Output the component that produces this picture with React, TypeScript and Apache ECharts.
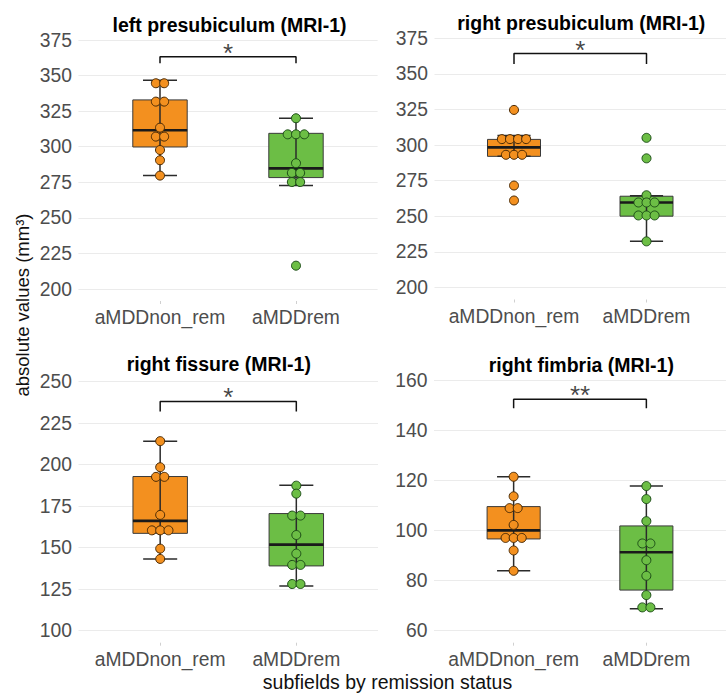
import React, { useEffect, useRef } from "react";
import * as echarts from "echarts";

// ---------- data ----------
const categories = ["aMDDnon_rem", "aMDDrem"];
const panelTitles = [
  "left presubiculum (MRI-1)",
  "right presubiculum (MRI-1)",
  "right fissure (MRI-1)",
  "right fimbria (MRI-1)",
];
const yMins = [200, 200, 100, 60];
const yMaxs = [375, 375, 250, 160];
const yIntervals = [25, 25, 25, 20];

// individual subjects (same value = same dot-plot bin)
const leftPresubNonRem = [344.6, 344.6, 331.7, 331.7, 313.4, 307.1, 307.1, 297.7, 290.5, 279.7];
const leftPresubRem = [320, 308.7, 308.7, 308.7, 288.4, 281.6, 281.6, 275.2, 275.2, 216.4];
const rightPresubNonRem = [324.7, 304.2, 304.2, 304.2, 304.2, 293.2, 293.2, 293.2, 271.6, 261.1];
const rightPresubRem = [305.1, 290.7, 264.8, 259.7, 259.7, 259.7, 250.6, 250.6, 250.6, 232.4];
const rightFissureNonRem = [214.1, 198.4, 192.6, 192.6, 169.7, 160.4, 160.4, 160.4, 149.4, 143.2];
const rightFissureRem = [187.3, 182.5, 169.3, 169.3, 157.6, 146.4, 139.6, 139.6, 128.1, 128.1];
const rightFimbriaNonRem = [121.4, 113.6, 108.9, 108.9, 102.2, 97, 97, 97, 92, 83.9];
const rightFimbriaRem = [117.7, 112.5, 103.7, 94.8, 94.8, 88.1, 81.9, 74.2, 69.3, 69.3];

// box statistics: [lower whisker, Q1, median, Q3, upper whisker]
const leftPresubBoxNonRem = [279.7, 299.8, 311.6, 332.9, 346.7];
const leftPresubBoxRem = [272.7, 278.3, 284.8, 309.4, 320];
const rightPresubBoxNonRem = [292.1, 292.1, 298.4, 304, 306.8];
const rightPresubBoxRem = [232.4, 250.1, 259.7, 264.1, 264.5];
const rightFissureBoxNonRem = [143.2, 158.6, 166.1, 192.8, 214];
const rightFissureBoxRem = [126.9, 139, 151.8, 170.5, 187.6];
const rightFimbriaBoxNonRem = [83.9, 96.6, 100, 109.5, 121.4];
const rightFimbriaBoxRem = [68.8, 76.2, 91.3, 101.8, 117.7];

const significance = ["*", "*", "*", "**"];
const bracketTops = [363.3, 364.3, 238, 152.3];
const bracketFeet = [358.7, 356.9, 232, 148.7];

const yAxisTitle = "absolute values (mm³)";
const xAxisTitle = "subfields by remission status";

// ---------- layout / style ----------
const W = 726;
const H = 694;
const FONT = "'Liberation Sans', Arial, Helvetica, sans-serif";
const ORANGE = "#F3901F";
const GREEN = "#6CBE45";
const ORANGE_EDGE = "#4a2a05";
const GREEN_EDGE = "#1c4d17";
const BOX_W = 0.4;
const CAP_W = 0.25;
const DOT_STEP = 0.061;

const grids = [
  { left: 78.4, top: 40, width: 299.2, height: 249 },
  { left: 434.5, top: 38.3, width: 300, height: 249.2 },
  { left: 78.5, top: 381.5, width: 299.5, height: 249.2 },
  { left: 434, top: 380, width: 301, height: 250.7 },
];
const titlePos = [
  [229.5, 25],
  [581.3, 23.3],
  [218.8, 364],
  [581.3, 365],
];

const panelPoints = [
  [leftPresubNonRem, leftPresubRem],
  [rightPresubNonRem, rightPresubRem],
  [rightFissureNonRem, rightFissureRem],
  [rightFimbriaNonRem, rightFimbriaRem],
];
const panelBoxes = [
  [leftPresubBoxNonRem, leftPresubBoxRem],
  [rightPresubBoxNonRem, rightPresubBoxRem],
  [rightFissureBoxNonRem, rightFissureBoxRem],
  [rightFimbriaBoxNonRem, rightFimbriaBoxRem],
];

function dotPositions(values: number[], xCenter: number) {
  const counts = new Map<number, number>();
  values.forEach((v) => counts.set(v, (counts.get(v) || 0) + 1));
  const seen = new Map<number, number>();
  return values.map((v) => {
    const k = counts.get(v) as number;
    const i = seen.get(v) || 0;
    seen.set(v, i + 1);
    return [xCenter + (i - (k - 1) / 2) * DOT_STEP, v];
  });
}

function buildOption() {
  const grid: any[] = [];
  const xAxis: any[] = [];
  const yAxis: any[] = [];
  const series: any[] = [];
  const graphic: any[] = [];

  for (let p = 0; p < 4; p++) {
    grid.push({ ...grids[p], containLabel: false });
    xAxis.push({
      type: "value",
      gridIndex: p,
      min: 0.4,
      max: 2.6,
      offset: 12,
      axisLine: { show: false },
      splitLine: { show: false },
      axisTick: {
        show: true,
        customValues: [1, 2],
        length: 3,
        lineStyle: { color: "#d0d0d0", width: 1 },
      },
      axisLabel: {
        customValues: [1, 2],
        formatter: (v: number) => categories[Math.round(v) - 1] || "",
        fontFamily: FONT,
        fontSize: 19.3,
        color: "#4D4D4D",
        margin: 7,
      },
    });
    yAxis.push({
      type: "value",
      gridIndex: p,
      min: yMins[p],
      max: yMaxs[p],
      interval: yIntervals[p],
      axisLine: { show: false },
      axisTick: { show: false },
      splitLine: { show: true, lineStyle: { color: "#EBEBEB", width: 1.1 } },
      axisLabel: {
        fontFamily: FONT,
        fontSize: 19.3,
        color: "#4D4D4D",
        margin: 6.5,
      },
    });

    const boxes = panelBoxes[p];
    series.push({
      type: "custom",
      xAxisIndex: p,
      yAxisIndex: p,
      z: 2,
      data: boxes.map((b, i) => [i + 1, ...b]),
      encode: { x: 0, y: [1, 2, 3, 4, 5] },
      renderItem: (params: any, api: any) => {
        const x = api.value(0);
        const lo = api.value(1);
        const q1 = api.value(2);
        const med = api.value(3);
        const q3 = api.value(4);
        const hi = api.value(5);
        const c = api.coord([x, med]);
        const halfBox = api.size([BOX_W / 2, 0])[0];
        const halfCap = api.size([CAP_W / 2, 0])[0];
        const yLo = api.coord([x, lo])[1];
        const yQ1 = api.coord([x, q1])[1];
        const yQ3 = api.coord([x, q3])[1];
        const yHi = api.coord([x, hi])[1];
        const fill = params.dataIndex === 0 ? ORANGE : GREEN;
        const stroke = "#2b2b2b";
        return {
          type: "group",
          children: [
            {
              type: "rect",
              shape: { x: c[0] - halfBox, y: yQ3, width: halfBox * 2, height: yQ1 - yQ3 },
              style: { fill, stroke: "#3a3a3a", lineWidth: 1 },
            },
            {
              type: "line",
              shape: { x1: c[0], y1: yLo, x2: c[0], y2: yHi },
              style: { stroke, lineWidth: 1.5 },
            },
            {
              type: "line",
              shape: { x1: c[0] - halfCap, y1: yHi, x2: c[0] + halfCap, y2: yHi },
              style: { stroke, lineWidth: 1.5 },
            },
            {
              type: "line",
              shape: { x1: c[0] - halfCap, y1: yLo, x2: c[0] + halfCap, y2: yLo },
              style: { stroke, lineWidth: 1.5 },
            },
            {
              type: "line",
              shape: { x1: c[0] - halfBox, y1: c[1], x2: c[0] + halfBox, y2: c[1] },
              style: { stroke: "#1a1a1a", lineWidth: 2.6 },
            },
          ],
        };
      },
    });

    const pts = panelPoints[p];
    series.push({
      type: "scatter",
      xAxisIndex: p,
      yAxisIndex: p,
      z: 3,
      symbol: "circle",
      symbolSize: 9,
      data: dotPositions(pts[0], 1),
      itemStyle: { color: ORANGE, borderColor: ORANGE_EDGE, borderWidth: 1, opacity: 1 },
    });
    series.push({
      type: "scatter",
      xAxisIndex: p,
      yAxisIndex: p,
      z: 3,
      symbol: "circle",
      symbolSize: 9,
      data: dotPositions(pts[1], 2),
      itemStyle: { color: GREEN, borderColor: GREEN_EDGE, borderWidth: 1, opacity: 1 },
    });

    series.push({
      type: "line",
      xAxisIndex: p,
      yAxisIndex: p,
      z: 4,
      symbol: "none",
      silent: true,
      lineStyle: { color: "#111", width: 1.5 },
      data: [
        [1, bracketFeet[p]],
        [1, bracketTops[p]],
        [2, bracketTops[p]],
        [2, bracketFeet[p]],
      ],
    });
    series.push({
      type: "scatter",
      xAxisIndex: p,
      yAxisIndex: p,
      z: 4,
      symbolSize: 0,
      silent: true,
      data: [[1.5, bracketTops[p]]],
      label: {
        show: true,
        position: "top",
        distance: -9,
        formatter: () => significance[p],
        fontFamily: FONT,
        fontSize: 26,
        color: "#111",
      },
    });

    graphic.push({
      type: "text",
      x: titlePos[p][0],
      y: titlePos[p][1],
      style: {
        text: panelTitles[p],
        fontFamily: FONT,
        fontSize: 19.5,
        fontWeight: "bold",
        fill: "#000",
        textAlign: "center",
        textVerticalAlign: "middle",
      },
    });
  }

  graphic.push({
    type: "text",
    x: 22,
    y: 305,
    rotation: Math.PI / 2,
    style: {
      text: yAxisTitle,
      fontFamily: FONT,
      fontSize: 18.5,
      fill: "#111",
      textAlign: "center",
      textVerticalAlign: "middle",
    },
  });
  graphic.push({
    type: "text",
    x: 387.5,
    y: 682,
    style: {
      text: xAxisTitle,
      fontFamily: FONT,
      fontSize: 19.5,
      fill: "#111",
      textAlign: "center",
      textVerticalAlign: "middle",
    },
  });

  return {
    animation: false,
    backgroundColor: "#ffffff",
    grid,
    xAxis,
    yAxis,
    series,
    graphic,
  };
}

export default function App() {
  const ref = useRef<HTMLDivElement>(null);
  useEffect(() => {
    if (!ref.current) return;
    const chart = echarts.init(ref.current, undefined, { renderer: "svg" });
    chart.setOption(buildOption() as any);
    return () => chart.dispose();
  }, []);
  return (
    <div
      ref={ref}
      style={{ position: "fixed", left: 0, top: 0, width: W, height: H, background: "#fff" }}
    />
  );
}
